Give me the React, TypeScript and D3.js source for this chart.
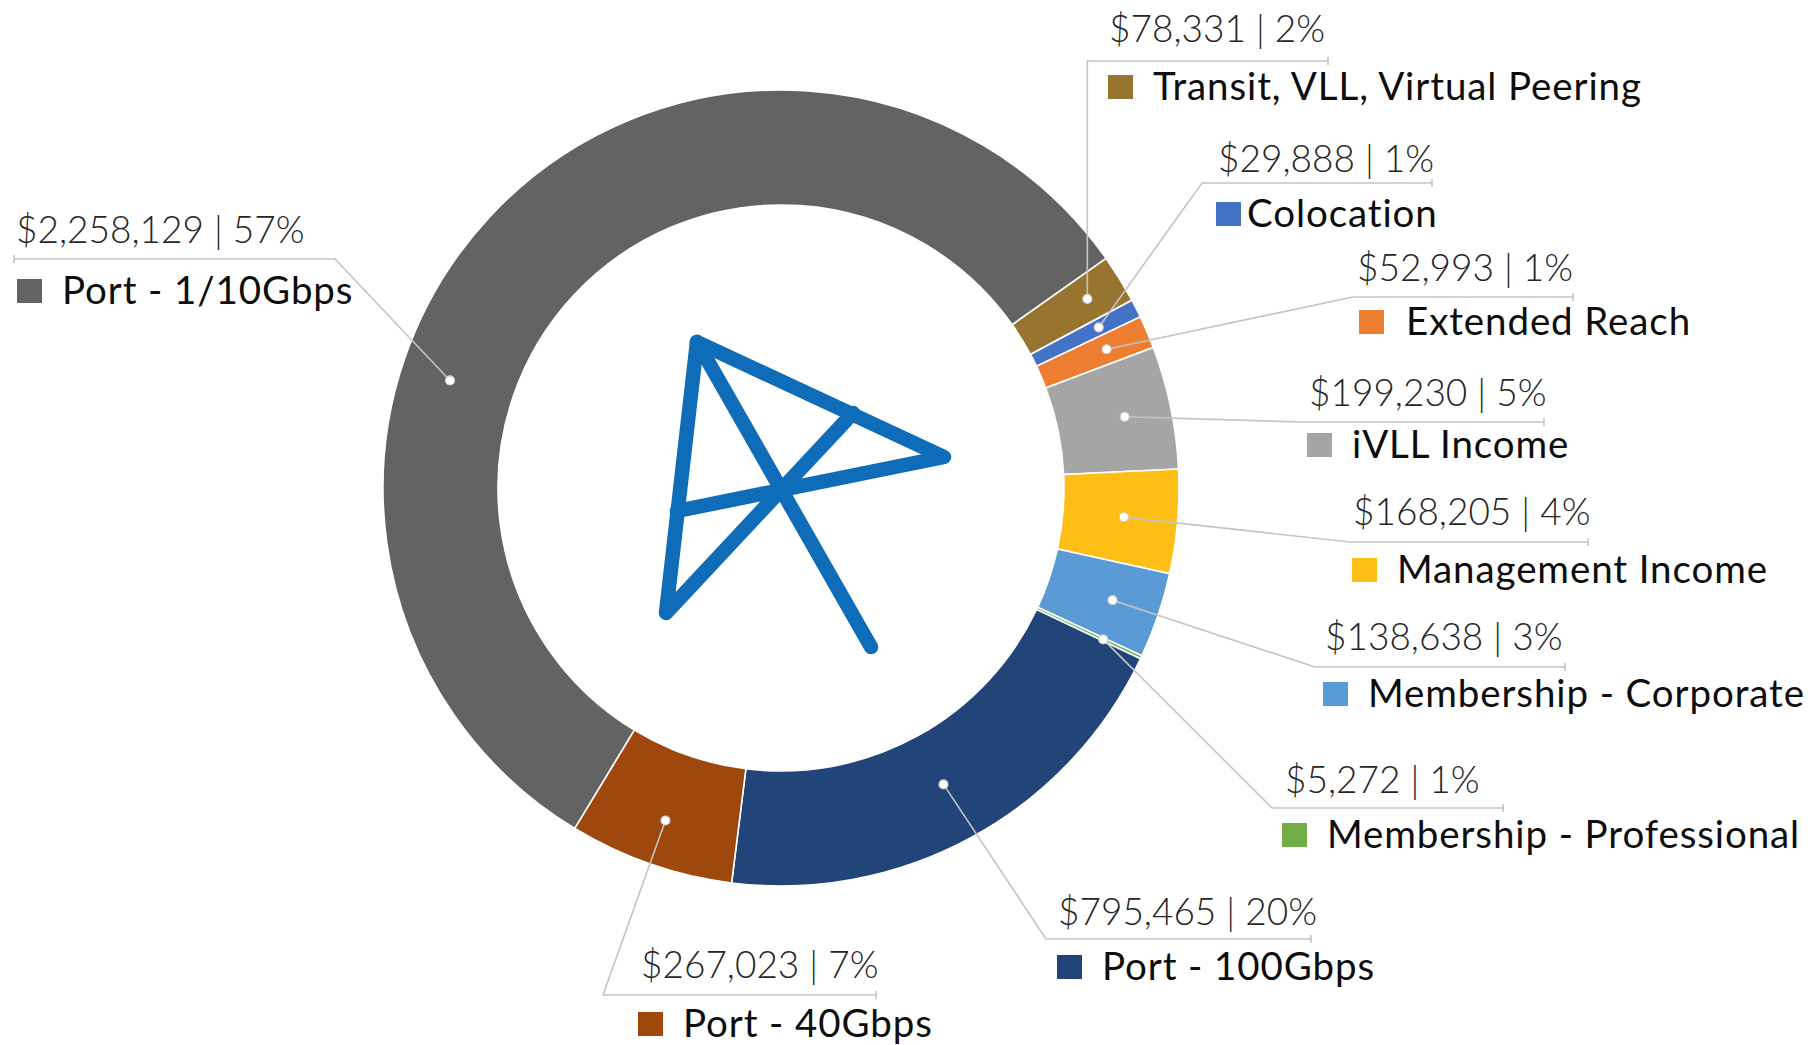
import React from 'react';
import * as d3 from 'd3';

// ---------- data ----------
const categories = [
  'Port - 1/10Gbps',
  'Transit, VLL, Virtual Peering',
  'Colocation',
  'Extended Reach',
  'iVLL Income',
  'Management Income',
  'Membership - Corporate',
  'Membership - Professional',
  'Port - 100Gbps',
  'Port - 40Gbps',
];
const values = [2258129, 78331, 29888, 52993, 199230, 168205, 138638, 5272, 795465, 267023];
const percentLabels = ['57%', '2%', '1%', '1%', '5%', '4%', '3%', '1%', '20%', '7%'];

// ---------- styles ----------
const palette = ['#636363', '#977530', '#4472C4', '#ED7D31', '#A5A5A5', '#FEBE16', '#5B9BD5', '#70AD47', '#214479', '#9E480E'];

// ---------- label layout (manually placed labels, like the original) ----------
const layout = [
  { vx: 16, vy: 243, ly: 259, lx1: 335, lx2: 14, ty: 304, sx: 17, tx: 62, dr: 348, da: 288 },
  { vx: 1109, vy: 42, ly: 61, lx1: 1086, lx2: 1328, ty: 100, sx: 1108, tx: 1153, dr: 360, vertical: true },
  { vx: 1218, vy: 172, ly: 183, lx1: 1202, lx2: 1432, ty: 227, sx: 1216, tx: 1247, dr: 356 },
  { vx: 1357, vy: 281, ly: 297, lx1: 1353, lx2: 1573, ty: 335, sx: 1359, tx: 1406, dr: 354 },
  { vx: 1309, vy: 406, ly: 422, lx1: 1300, lx2: 1544, ty: 458, sx: 1307, tx: 1352, dr: 351 },
  { vx: 1353, vy: 525, ly: 542, lx1: 1350, lx2: 1588, ty: 583, sx: 1352, tx: 1397, dr: 344 },
  { vx: 1325, vy: 650, ly: 667, lx1: 1315, lx2: 1565, ty: 707, sx: 1323, tx: 1368, dr: 350 },
  { vx: 1285, vy: 793, ly: 808, lx1: 1272, lx2: 1503, ty: 848, sx: 1282, tx: 1327, dr: 356 },
  { vx: 1058, vy: 925, ly: 939, lx1: 1046, lx2: 1311, ty: 980, sx: 1057, tx: 1102, dr: 338 },
  { vx: 641, vy: 978, ly: 995, lx1: 603, lx2: 876, ty: 1037, sx: 638, tx: 683, dr: 352 },
];

// center logo stroke points
const logoPaths: [number, number][][] = [
  [[697, 342], [944, 457], [677, 511]],
  [[697, 342], [666, 613], [853, 413]],
  [[697, 342], [871, 647]],
];

const W = 1813;
const H = 1045;
const CX = 781;
const CY = 488;
const R_OUT = 398;
const R_IN = 283;
const START = (-148.8 * Math.PI) / 180;

export default function App() {
  const pie = d3
    .pie<number>()
    .sort(null)
    .value((d) => d)
    .startAngle(START)
    .endAngle(START + 2 * Math.PI);
  const arcs = pie(values);
  const arc = d3.arc<d3.PieArcDatum<number>>().innerRadius(R_IN).outerRadius(R_OUT);
  const fmt = d3.format(',');
  const line = d3.line();

  return (
    <svg
      width={W}
      height={H}
      viewBox={`0 0 ${W} ${H}`}
      style={{ position: 'absolute', left: 0, top: 0, background: '#fff' }}
    >
      <g transform={`translate(${CX},${CY})`}>
        {arcs.map((a, i) => (
          <path key={i} d={arc(a) || ''} fill={palette[i]} stroke="#fff" strokeWidth={1.6} />
        ))}
      </g>

      {/* logo */}
      <g fill="none" stroke="#0F6CB9" strokeWidth={14.5} strokeLinecap="round" strokeLinejoin="round">
        {logoPaths.map((p, i) => (
          <path key={i} d={line(p) || ''} />
        ))}
      </g>

      {/* leader lines, dots, labels */}
      {arcs.map((a, i) => {
        const L = layout[i];
        const ang = L.da !== undefined ? (L.da * Math.PI) / 180 : (a.startAngle + a.endAngle) / 2;
        const dx = CX + L.dr * Math.sin(ang);
        const dy = CY - L.dr * Math.cos(ang);
        const elbowX = L.vertical ? dx : L.lx1;
        const pts: [number, number][] = [
          [dx, dy],
          [elbowX, L.ly],
          [L.lx2, L.ly],
        ];
        return (
          <g key={i}>
            <path d={line(pts) || ''} fill="none" stroke="#C4C4C4" strokeWidth={1.6} />
            <line x1={L.lx2} x2={L.lx2} y1={L.ly - 4} y2={L.ly + 4} stroke="#C4C4C4" strokeWidth={1.6} />
            <circle cx={dx} cy={dy} r={4.5} fill="#fff" stroke="#CFCFCF" strokeWidth={1.2} />
            <text
              x={L.vx}
              y={L.vy}
              fontFamily="Lato, 'Open Sans', sans-serif"
              fontWeight={300}
              fontSize={37}
              fill="#262626"
            >
              {`$${fmt(values[i])} | ${percentLabels[i]}`}
            </text>
            <rect x={L.sx} y={L.ty - 25} width={25} height={24} fill={palette[i]} />
            <text
              x={L.tx}
              y={L.ty}
              fontFamily="Lato, 'Open Sans', sans-serif"
              fontWeight={400}
              fontSize={38.5}
              letterSpacing={0.9}
              fill="#0d0d0d"
            >
              {categories[i]}
            </text>
          </g>
        );
      })}
    </svg>
  );
}
